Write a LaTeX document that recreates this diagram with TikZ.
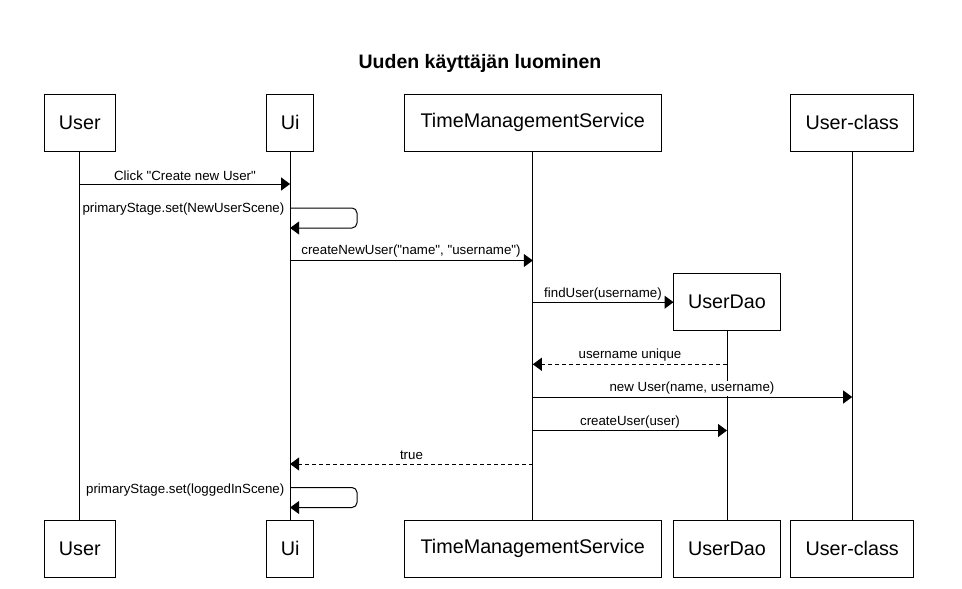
\documentclass[tikz,border=0pt]{standalone}
\usepackage{fontspec}
\setmainfont{Liberation Sans}[Ligatures=TeXOff]
\usetikzlibrary{arrows.meta}
\tikzset{
  obj/.style={draw, line width=1pt, inner sep=0pt, outer sep=0pt, minimum height=57pt, font=\fontsize{19.75}{22}\selectfont},
  life/.style={line width=1pt},
  msg/.style={line width=1pt, -{Triangle[length=9pt,width=13pt]}},
  ret/.style={msg, dash pattern=on 4pt off 3pt},
  lbl/.style={fill=white, inner sep=1.5pt, font=\fontsize{13.3}{16}\selectfont},
  loop/.style={msg, rounded corners=5pt}
}
\begin{document}
\begin{tikzpicture}[x=1pt,y=-1pt]
\useasboundingbox (0,0) rectangle (962,589);
% title
\node[font=\fontsize{19.5}{23}\selectfont\bfseries] (title) at (480,63.5) {Uuden käyttäjän luominen};
% top objects
\node[obj, minimum width=71pt] (userT) at (79.8,122.8) {User};
\node[obj, minimum width=47pt] (uiT) at (290.1,122.8) {Ui};
\node[obj, minimum width=257pt] (tmsT) at (532.8,122.8) {TimeManagementService};
\node[obj, minimum width=123pt] (ucT) at (852.2,122.8) {User-class};
\node[obj, minimum width=107pt] (daoT) at (727,302.2) {UserDao};
% bottom objects
\node[obj, minimum width=71pt] (userB) at (79.8,548.8) {User};
\node[obj, minimum width=47pt] (uiB) at (290.1,548.8) {Ui};
\node[obj, minimum width=257pt] (tmsB) at (532.8,548.8) {TimeManagementService};
\node[obj, minimum width=107pt] (daoB) at (727,548.8) {UserDao};
\node[obj, minimum width=123pt] (ucB) at (852.2,548.8) {User-class};
% lifelines
\draw[life] (userT.south) -- (userB.north);
\draw[life] (uiT.south) -- (uiB.north);
\draw[life] (tmsT.south) -- (tmsB.north);
\draw[life] (daoT.south) -- (daoB.north);
\draw[life] (ucT.south) -- (ucB.north);
% labels
\node[lbl] (l1) at (185,176) {Click "Create new User"};
\node[lbl, anchor=east] (l2) at (286,209.5) {primaryStage.set(NewUserScene)};
\node[lbl] (l3) at (411,251.5) {createNewUser("name", "username")};
\node[lbl] (l4) at (603,294) {findUser(username)};
\node[lbl] (l5) at (630,355.5) {username unique};
\node[lbl] (l6) at (692,388.5) {new User(name, username)};
\node[lbl] (l7) at (630,422) {createUser(user)};
\node[lbl] (l8) at (411.5,455) {true};
\node[lbl, anchor=east] (l9) at (286,490.5) {primaryStage.set(loggedInScene)};
% messages
\draw[msg] (userT.south |- 0,184) -- (uiT.south |- 0,184);
\draw[loop] (uiT.south |- 0,208) -- (357,208) -- (357,228) -- (uiT.south |- 0,228);
\draw[msg] (uiT.south |- 0,260.5) -- (tmsT.south |- 0,260.5);
\draw[msg] (tmsT.south |- daoT.west) -- (daoT.west);
\draw[ret] (daoT.south |- 0,364.3) -- (tmsT.south |- 0,364.3);
\draw[msg] (tmsT.south |- 0,397) -- (ucT.south |- 0,397);
\draw[msg] (tmsT.south |- 0,430.5) -- (daoT.south |- 0,430.5);
\draw[ret] (tmsT.south |- 0,464) -- (uiT.south |- 0,464);
\draw[loop] (uiT.south |- 0,487.5) -- (357,487.5) -- (357,507.5) -- (uiT.south |- 0,507.5);
\end{tikzpicture}
\end{document}
